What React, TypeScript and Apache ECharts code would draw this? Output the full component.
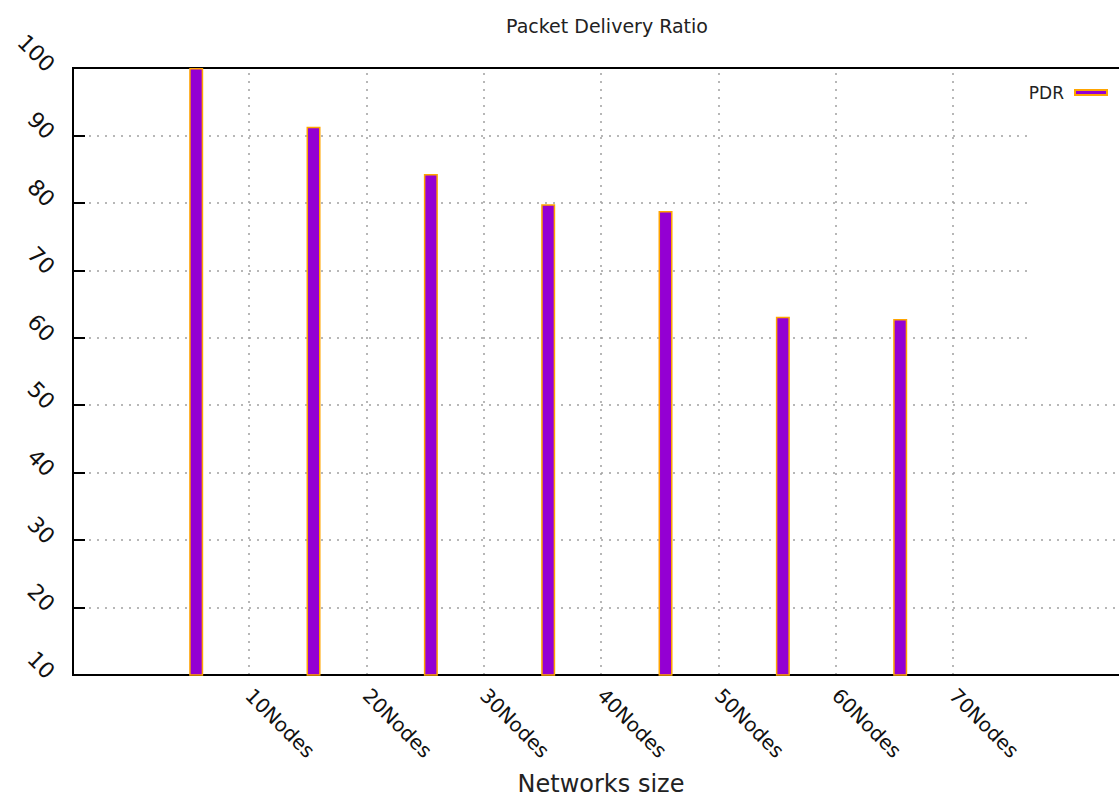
import React, { useEffect, useRef } from "react";
import * as echarts from "echarts";

const categories = ["10Nodes", "20Nodes", "30Nodes", "40Nodes", "50Nodes", "60Nodes", "70Nodes"];
const pdrValues = [100, 91.3, 84.3, 79.8, 78.8, 63.1, 62.8];
const yTicks = { min: 10, max: 100, interval: 10 };
const seriesName = "PDR";
const titleText = "Packet Delivery Ratio";
const xAxisTitle = "Networks size";

const BAR_SHIFT = 0.45;
const FONT = "'DejaVu Sans', Verdana, sans-serif";

export default function App() {
  const ref = useRef<HTMLDivElement>(null);
  useEffect(() => {
    if (!ref.current) return;
    const chart = echarts.init(ref.current, null, { renderer: "svg" });
    const barData = pdrValues.map((v, i) => [i + 1 - BAR_SHIFT, v]);
    const tickPositions = categories.map((_, i) => i + 1);
    const gridDots = { color: "#a0a0a0", width: 1.5, type: [2, 6] as number[] };
    chart.setOption({
      animation: false,
      backgroundColor: "#ffffff",
      textStyle: { fontFamily: FONT },
      title: {
        text: titleText,
        left: 602,
        top: 11,
        textAlign: "center",
        textStyle: { fontFamily: FONT, fontSize: 19, fontWeight: "normal", color: "#222" },
      },
      legend: {
        data: [seriesName],
        right: 6,
        top: 79,
        align: "right",
        icon: "rect",
        itemWidth: 32,
        itemHeight: 5,
        textStyle: { fontFamily: FONT, fontSize: 17, color: "#222", padding: [0, 6, 0, 0] },
        z: 5,
      },
      grid: {
        left: 73,
        top: 68,
        right: -10,
        bottom: 126,
        containLabel: false,
        outerBoundsMode: "none",
        show: true,
        borderColor: "#000",
        borderWidth: 2,
        backgroundColor: "transparent",
      },
      xAxis: {
        type: "value",
        min: -0.5,
        max: 8.5,
        name: xAxisTitle,
        nameLocation: "middle",
        nameGap: 97,
        nameTextStyle: { fontFamily: FONT, fontSize: 24, color: "#222" },
        axisLine: { show: true, onZero: false, lineStyle: { color: "#000", width: 2 } },
        axisTick: { show: false },
        splitLine: { show: false },
        axisLabel: {
          customValues: tickPositions,
          rotate: -45,
          margin: 17,
          fontFamily: FONT,
          fontSize: 20,
          color: "#111",
          formatter: (v: number) => {
            const idx = Math.round(v) - 1;
            return Math.abs(v - Math.round(v)) < 1e-6 && idx >= 0 && idx < categories.length ? categories[idx] : "";
          },
        },
      },
      yAxis: {
        type: "value",
        min: yTicks.min,
        max: yTicks.max,
        interval: yTicks.interval,
        axisLine: { show: true, onZero: false, lineStyle: { color: "#000", width: 2 } },
        axisTick: { show: true, inside: true, length: 12, lineStyle: { color: "#000", width: 2 } },
        splitLine: { show: true, showMinLine: false, showMaxLine: false, lineStyle: gridDots },
        axisLabel: {
          rotate: -45,
          margin: 22,
          fontFamily: FONT,
          fontSize: 22,
          color: "#111",
        },
      },
      graphic: [
        {
          type: "rect",
          shape: { x: 1032, y: 70, width: 85, height: 302 },
          style: { fill: "#ffffff" },
          z: 1,
          silent: true,
        },
      ],
      series: [
        {
          name: seriesName,
          type: "bar",
          data: barData,
          barWidth: 14,
          itemStyle: { color: "#9400D3", borderColor: "#FFA500", borderWidth: 1.5 },
          z: 3,
          markLine: {
            silent: true,
            symbol: "none",
            label: { show: false },
            lineStyle: gridDots,
            z: 0,
            data: tickPositions.map((p) => ({ xAxis: p })),
          },
        },
      ],
    });
    return () => chart.dispose();
  }, []);
  return (
    <div
      ref={ref}
      style={{ position: "fixed", left: 0, top: 0, width: 1119, height: 801 }}
    />
  );
}
